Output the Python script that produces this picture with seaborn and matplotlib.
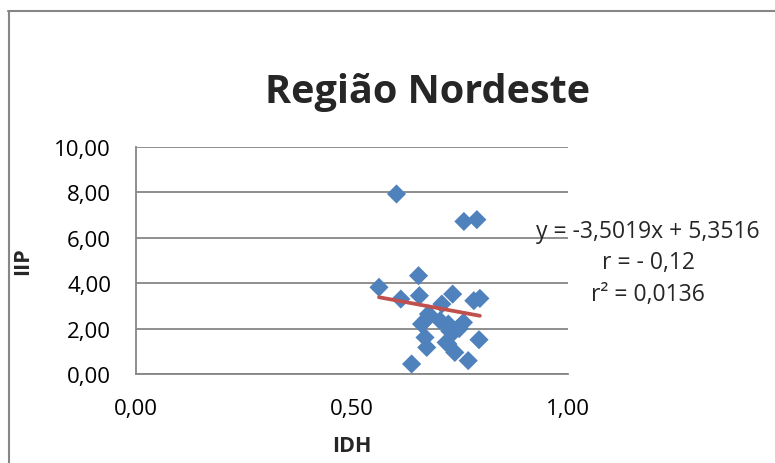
import matplotlib
matplotlib.use("Agg")
import matplotlib.pyplot as plt
import seaborn as sns
import pandas as pd
import numpy as np
from matplotlib.lines import Line2D

# ---- data ----
idh = [0.603, 0.759, 0.789, 0.5625, 0.654, 0.613, 0.656, 0.733, 0.708, 0.782,
       0.796, 0.677, 0.673, 0.661, 0.704, 0.723, 0.758, 0.734, 0.748, 0.669,
       0.673, 0.718, 0.738, 0.769, 0.794, 0.638, 0.726, 0.722]
iip = [7.93, 6.72, 6.80, 3.82, 4.33, 3.30, 3.45, 3.52, 3.08, 3.23,
       3.33, 2.64, 2.42, 2.20, 2.35, 2.20, 2.27, 1.83, 2.00, 1.61,
       1.17, 1.39, 0.95, 0.59, 1.51, 0.44, 1.90, 1.32]
slope = -3.5019
intercept = 5.3516
x_ticks = [0.0, 0.5, 1.0]
x_tick_labels = ["0,00", "0,50", "1,00"]
y_ticks = [0, 2, 4, 6, 8, 10]
y_tick_labels = ["0,00", "2,00", "4,00", "6,00", "8,00", "10,00"]
title = "Região Nordeste"
eq_lines = ["y = -3,5019x + 5,3516", "r = - 0,12", "r² = 0,0136"]

df = pd.DataFrame({"IDH": idh, "IIP": iip})
trend = pd.DataFrame({"IDH": [min(idh), max(idh)]})
trend["IIP"] = slope * trend["IDH"] + intercept

sns.set_theme(style="white")
plt.rcParams["font.family"] = ["Open Sans", "DejaVu Sans"]

fig = plt.figure(figsize=(7.75, 4.64), dpi=100)
ax = fig.add_axes([136/775, 1 - 375/464, (568-136)/775, (375-148)/464])

grid_c = "#868686"
ax.set_xlim(0, 1)
ax.set_ylim(0, 10)
for yv in y_ticks:
    ax.axhline(yv, color=grid_c, lw=1.3, zorder=0)

sns.scatterplot(data=df, x="IDH", y="IIP", marker="D", s=95, color="#4F81BD",
                edgecolor="none", ax=ax, zorder=3)
sns.lineplot(data=trend, x="IDH", y="IIP", color="#C0504D", lw=2.7, ax=ax, zorder=4)

ax.set_xticks(x_ticks)
ax.set_xticklabels(x_tick_labels)
ax.set_yticks(y_ticks)
ax.set_yticklabels(y_tick_labels)
ax.tick_params(axis="both", direction="out", length=6, width=1.3, color=grid_c,
               labelsize=16, labelcolor="black")
ax.tick_params(axis="y", pad=12)
ax.tick_params(axis="x", pad=11)
for s in ["top", "right"]:
    ax.spines[s].set_visible(False)
for s in ["left", "bottom"]:
    ax.spines[s].set_color(grid_c)
    ax.spines[s].set_linewidth(1.3)

ax.set_xlabel("IDH", fontsize=15.5, fontweight="bold", labelpad=12)
ax.set_ylabel("IIP", fontsize=15.5, fontweight="bold", labelpad=15)

fig.text(428/775, 1 - 93/464, title, fontsize=28.5, fontweight="bold",
         ha="center", va="center")

ys = [232, 263, 295]
for t, yy in zip(eq_lines, ys):
    fig.text(648/775, 1 - yy/464, t, fontsize=16.5, ha="center", va="center")

# chart area border (left and top visible)
fig.add_artist(Line2D([8.5/775, 8.5/775], [1 - 12/464, 0], color=grid_c, lw=1.5,
                      transform=fig.transFigure))
fig.add_artist(Line2D([8/775, 1], [1 - 12/464, 1 - 12/464], color=grid_c, lw=1.5,
                      transform=fig.transFigure))

fig.savefig("out.png", dpi=100)
